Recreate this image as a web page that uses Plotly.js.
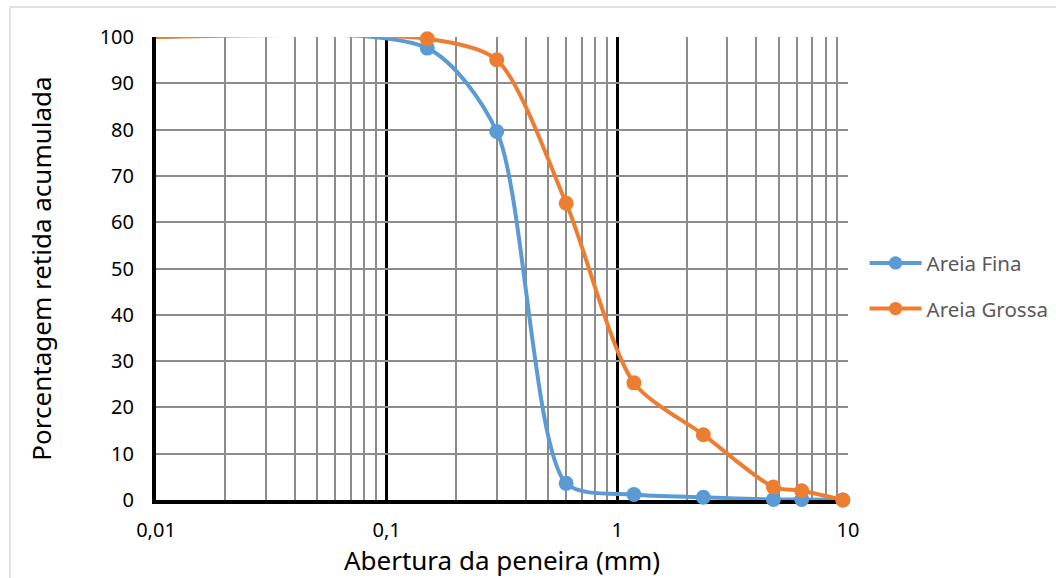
<!DOCTYPE html>
<html>
<head>
<meta charset="utf-8">
<script src="https://cdn.plot.ly/plotly-3.0.1.min.js"></script>
<style>
html,body{margin:0;padding:0;background:#fff;}
#chart{width:1056px;height:578px;}
</style>
</head>
<body>
<div id="chart"></div>
<script>
// Sieve openings (mm)
var aberturas = [0.01, 0.15, 0.3, 0.6, 1.18, 2.36, 4.75, 6.3, 9.5];
// Cumulative retained percentage
var areiaFina   = [100, 97.6, 79.6, 3.6, 1.2, 0.6, 0.1, 0.1, 0];
var areiaGrossa = [100, 99.6, 95.1, 64.1, 25.3, 14.1, 2.8, 2.0, 0];
var seriesNames = ['Areia Fina', 'Areia Grossa'];
var xTickVals = [0.01, 0.1, 1, 10];
var xTickText = ['0,01', '0,1', '1', '10'];
var yTickVals = [0, 10, 20, 30, 40, 50, 60, 70, 80, 90, 100];

var font = '"Noto Sans", "Open Sans", Arial, sans-serif';
var markerSizes = aberturas.map(function(v, i){ return i === 0 ? 0 : 15; });

function mk(name, y, color, grp){
  return {
    x: aberturas, y: y, name: name, type: 'scatter', mode: 'lines+markers',
    line: {color: color, width: 4, shape: 'spline', smoothing: 0.75},
    marker: {color: color, size: markerSizes, opacity: 1, line: {width: 0}},
    legendgroup: grp, cliponaxis: false, hoverinfo: 'skip'
  };
}

var data = [
  mk(seriesNames[0], areiaFina, '#5B9BD5', 'a'),
  mk(seriesNames[1], areiaGrossa, '#ED7D31', 'b')
];

var layout = {
  width: 1056, height: 578,
  margin: {l: 156, r: 208, t: 37, b: 78, pad: 0, autoexpand: false},
  paper_bgcolor: '#fff', plot_bgcolor: '#fff',
  showlegend: true,
  legend: {x: 1.024, y: 0.462, xanchor: 'left', yanchor: 'middle',
           font: {family: font, size: 20.5, color: '#595959'},
           traceorder: 'grouped', tracegroupgap: 16, itemwidth: 52},
  xaxis: {
    type: 'log', range: [-2, 1], tickvals: xTickVals, ticktext: xTickText,
    automargin: false,
    showgrid: true, gridcolor: '#000', gridwidth: 3,
    showline: true, linecolor: '#000', linewidth: 4, mirror: false,
    ticks: '', ticklabelstandoff: 9,
    tickfont: {family: font, size: 20, color: '#000'},
    minor: {dtick: 'D1', showgrid: true, gridcolor: '#8c8c8c', gridwidth: 2, ticks: ''},
    title: {text: 'Abertura da peneira (mm)', font: {family: font, size: 26, color: '#000'}, standoff: 12},
    zeroline: false, layer: 'below traces', fixedrange: true
  },
  yaxis: {
    range: [0, 100], tickvals: yTickVals,
    automargin: false,
    showgrid: true, gridcolor: '#8c8c8c', gridwidth: 2,
    showline: true, linecolor: '#000', linewidth: 4,
    ticks: '', ticklabelstandoff: 14,
    tickfont: {family: font, size: 20, color: '#000'},
    title: {text: 'Porcentagem retida acumulada', font: {family: font, size: 26, color: '#000'}, standoff: 42},
    zeroline: false, layer: 'below traces', fixedrange: true
  },
  shapes: [
    {type: 'rect', xref: 'paper', yref: 'paper', layer: 'below',
     x0: -146/692, x1: 1.4, y0: -0.3, y1: 1 + 30/463,
     line: {color: '#d9d9d9', width: 1.5}, fillcolor: 'rgba(0,0,0,0)'}
  ]
};

Plotly.newPlot('chart', data, layout, {staticPlot: true, displayModeBar: false});
</script>
</body>
</html>
